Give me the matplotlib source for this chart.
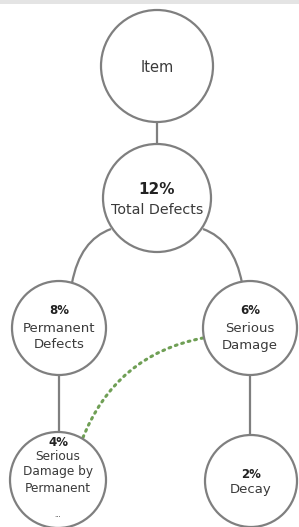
import matplotlib
matplotlib.use("Agg")
import matplotlib.pyplot as plt
from matplotlib.patches import Circle, Rectangle, PathPatch
from matplotlib.path import Path

# ---- data ----
node_names = ["Item", "Total Defects", "Permanent\nDefects", "Serious\nDamage",
              "Serious\nDamage by\nPermanent", "Decay"]
node_pcts = ["", "12%", "8%", "6%", "4%", "2%"]
node_parents = [None, 0, 1, 1, 2, 3]
cross_links = [(3, 4)]  # dotted green link: Serious Damage -> Serious Damage by Permanent
truncated = [False, False, False, False, True, False]

# ---- layout (pixels) ----
W, H = 299, 527
centers = [(157, 66), (157, 198), (59, 328), (250, 328), (58, 480), (251, 481)]
radii = [56, 54, 47, 47, 48, 46]
name_size = [10.5, 10.3, 9.5, 9.5, 8.7, 9.5]
pct_size = [0, 11.0, 8.5, 8.5, 8.5, 8.5]
pct_y = [0, 190, 311, 311, 442, 475]
name_y0 = [67, 210, 328, 328, 456, 490]
line_h = [0, 0, 17, 17, 16, 0]

fig = plt.figure(figsize=(W / 100, H / 100), dpi=100)
ax = fig.add_axes([0, 0, 1, 1])
ax.set_xlim(0, W)
ax.set_ylim(H, 0)
ax.axis("off")

edge = "#7f7f7f"
ax.add_patch(Rectangle((0, 0), W, 4, color="#e4e4e4", lw=0, zorder=0))

# tree links
link_paths = {
    (0, 1): [(157, 122), (157, 144)],
    (1, 2): [(111, 229), (80, 240), (72, 283)],
    (1, 3): [(203, 229), (234, 240), (242, 283)],
    (2, 4): [(59, 375), (59, 432)],
    (3, 5): [(250, 375), (250, 435)],
}
for child, parent in enumerate(node_parents):
    if parent is None:
        continue
    pts = link_paths[(parent, child)]
    codes = [Path.MOVETO, Path.LINETO] if len(pts) == 2 else [Path.MOVETO, Path.CURVE3, Path.CURVE3]
    ax.add_patch(PathPatch(Path(pts, codes), fc="none", ec=edge, lw=1.6, zorder=1))

for a, b in cross_links:
    pts = [(203, 338), (115, 355), (82, 440)]
    ax.add_patch(PathPatch(Path(pts, [Path.MOVETO, Path.CURVE3, Path.CURVE3]),
                           fc="none", ec="#6f9f55", lw=2.2, ls=(0, (0.6, 1.6)),
                           capstyle="round", zorder=1))

font = ["DejaVu Sans"]
tc = "#3a3a3a"
for i, (c, r) in enumerate(zip(centers, radii)):
    ax.add_patch(Circle(c, r, fc="white", ec=edge, lw=1.6, zorder=2))
    if node_pcts[i]:
        ax.text(c[0], pct_y[i], node_pcts[i], ha="center", va="center",
                fontsize=pct_size[i], fontweight="bold", color="#222222",
                family=font, zorder=3)
    for k, line in enumerate(node_names[i].split("\n")):
        ax.text(c[0], name_y0[i] + k * line_h[i], line, ha="center", va="center",
                fontsize=name_size[i], color=tc, family=font, zorder=3)
    if truncated[i]:
        ax.text(c[0], c[1] + 35, "...", ha="center", va="center", fontsize=5,
                color=tc, family=font, zorder=3)

fig.savefig("out.png", dpi=100)
